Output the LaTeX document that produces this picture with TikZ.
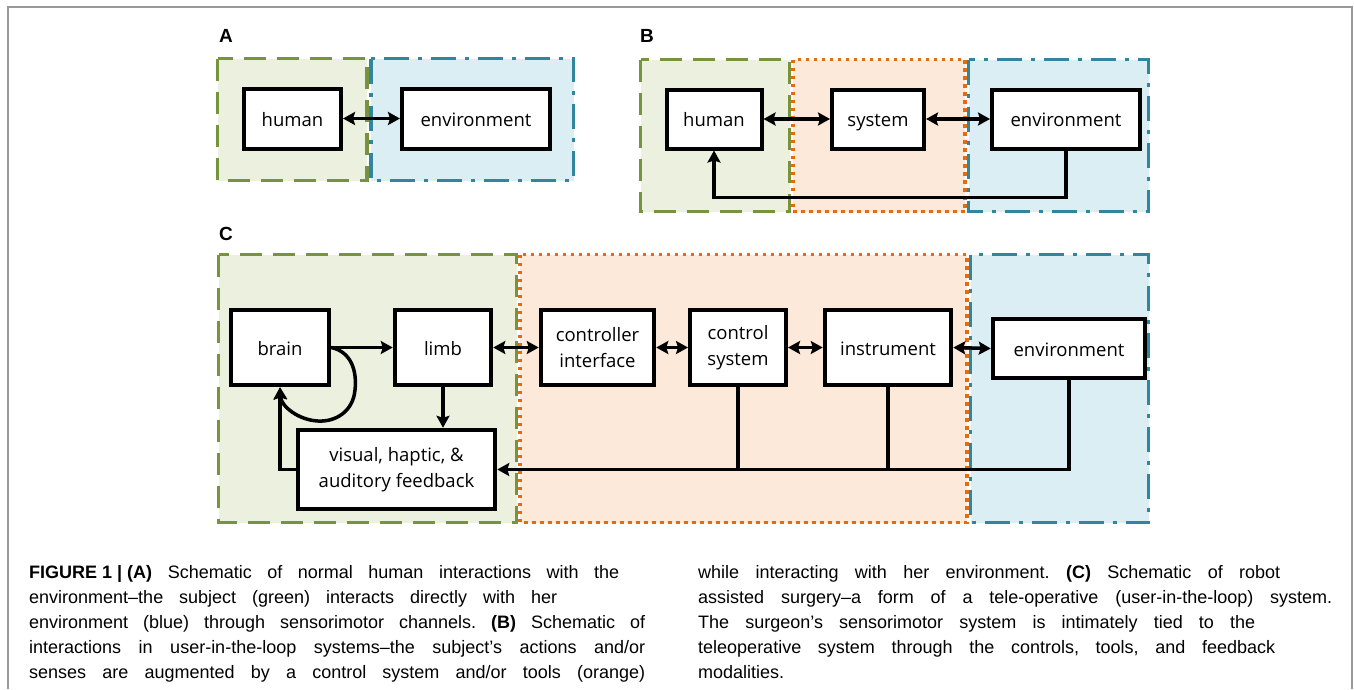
\documentclass[tikz,border=0pt]{standalone}
\usepackage{fontspec}
\setmainfont{Open Sans}
\newfontfamily\capfont{Liberation Sans}
\usetikzlibrary{arrows.meta}

% 区域配色
\definecolor{grnfill}{HTML}{EBF1DE}
\definecolor{grnline}{HTML}{77933C}
\definecolor{orgfill}{HTML}{FDE9D9}
\definecolor{orgline}{HTML}{E46C0A}
\definecolor{blufill}{HTML}{DAEEF3}
\definecolor{bluline}{HTML}{31859C}

% 图注一行：名称, x, 基线 y, 宽度, 文字
\newcommand{\capln}[5]{\node[capt, anchor=base west] (#1) at (#2,#3) {\makebox[#4pt][s]{#5}};}

\begin{document}
\begin{tikzpicture}[x=1pt, y=-1pt,
    blk/.style={draw, line width=4pt, fill=white, inner sep=0pt, align=center,
      font=\fontsize{18.5}{26}\selectfont},
    one/.style={text height=15pt, text depth=0pt},
    grnreg/.style={fill=grnfill, draw=grnline, line width=3.5pt, dash pattern=on 22pt off 11pt},
    orgreg/.style={fill=orgfill, draw=orgline, line width=3.5pt, dash pattern=on 3.5pt off 4.5pt},
    blureg/.style={fill=blufill, draw=bluline, line width=3.5pt, dash pattern=on 25pt off 9pt on 4pt off 9pt},
    lnk/.style={line width=3.5pt},
    arr/.style={lnk, -{Stealth[length=12pt, width=13pt, inset=2pt]}},
    darr/.style={lnk, {Stealth[length=12pt, width=13pt, inset=2pt]}-{Stealth[length=12pt, width=13pt, inset=2pt]}},
    panel/.style={font=\capfont\bfseries\fontsize{19}{22}\selectfont, inner sep=0pt, anchor=base west},
    capt/.style={font=\capfont\fontsize{18}{25}\selectfont\frenchspacing, inner sep=0pt}]
    \useasboundingbox (0,0) rectangle (1354,689);
    % 外框
    \draw[line width=2pt, gray!80] (8,689) -- (8,7) -- (1352,7) -- (1352,689);

    % ---- A ----
    \node[panel] (labA) at (219,42) {A};
    \draw[grnreg] (217.5,58.5) rectangle (367,180.5);
    \draw[blureg] (371,58.5) rectangle (573.5,180.5);
    \node[blk, one, minimum width=97pt, minimum height=60pt] (hA) at (292.5,118.5) {human};
    \node[blk, one, minimum width=148pt, minimum height=60pt] (eA) at (476,118.5) {environment};
    \draw[darr] (hA) -- (eA);

    % ---- B ----
    \node[panel] (labB) at (640,42) {B};
    \draw[grnreg] (640.5,59.5) rectangle (789.5,211.5);
    \draw[orgreg] (793,59.5) rectangle (965,211.5);
    \draw[blureg] (968.5,59.5) rectangle (1148.5,211.5);
    \node[blk, one, minimum width=95pt, minimum height=59pt] (hB) at (714,119) {human};
    \node[blk, one, minimum width=92pt, minimum height=59pt] (sB) at (878,119) {system};
    \node[blk, one, minimum width=148pt, minimum height=59pt] (eB) at (1066,119) {environment};
    \draw[darr] (hB) -- (sB);
    \draw[darr] (sB) -- (eB);
    \draw[arr] (eB.south) -- ++(0,47) -| (hB.south);

    % ---- C ----
    \node[panel] (labC) at (219,240) {C};
    \draw[grnreg] (218.5,254.5) rectangle (516.5,522.5);
    \draw[orgreg] (520,254.5) rectangle (967,522.5);
    \draw[blureg] (970.5,254.5) rectangle (1148.5,522.5);
    \node[blk, one, minimum width=98.5pt, minimum height=75.5pt] (brain) at (280,347.5) {brain};
    \node[blk, one, minimum width=96.5pt, minimum height=75.5pt] (limb) at (443,347.5) {limb};
    \node[blk, minimum width=113.5pt, minimum height=75.5pt] (ctrl) at (597.5,347.5) {controller\\interface};
    \node[blk, minimum width=96pt, minimum height=75.5pt] (csys) at (738,347.5) {control\\system};
    \node[blk, one, minimum width=126.5pt, minimum height=75.5pt] (instr) at (888,347.5) {instrument};
    \node[blk, one, minimum width=152.5pt, minimum height=59.5pt] (envC) at (1069,348.5) {environment};
    \node[blk, minimum width=197.5pt, minimum height=79.5pt] (fb) at (396.5,469.5) {visual, haptic, \&\\auditory feedback};

    \draw[arr] (brain.east) -- (limb.west);
    % 自反馈回路
    \draw[arr] (brain.east) .. controls (352,352) and (357,372) .. (355,390)
      .. controls (353,412) and (335,422) .. (318,421)
      .. controls (298,420) and (281,406) .. (brain.south);
    \draw[arr] (limb.south) -- (limb.south |- fb.north);
    \draw[arr] (fb.west) -| (brain.south);
    \draw[darr] (limb.east) -- (ctrl.west);
    \draw[darr] (ctrl.east) -- (csys.west);
    \draw[darr] (csys.east) -- (instr.west);
    \draw[darr] (instr.east) -- (envC.west);
    % 感知反馈总线
    \draw[arr] (envC.south) |- (fb.east);
    \draw[lnk] (csys.south) -- (csys.south |- fb.east);
    \draw[lnk] (instr.south) -- (instr.south |- fb.east);

    % ---- 图注 ----
    \capln{cl1}{29}{578}{590}{\mbox{\textbf{FIGURE 1 | (A)}} Schematic of normal human interactions with the}
    \capln{cl2}{29}{603}{528}{environment–the subject (green) interacts directly with her}
    \capln{cl3}{29}{628}{616}{environment (blue) through sensorimotor channels. \textbf{(B)} Schematic of}
    \capln{cl4}{29}{653}{616}{interactions in user-in-the-loop systems–the subject’s actions and/or}
    \capln{cl5}{29}{678}{616}{senses are augmented by a control system and/or tools (orange)}
    \capln{cr1}{698}{578}{582}{while interacting with her environment. \textbf{(C)} Schematic of robot}
    \capln{cr2}{698}{603}{634}{assisted surgery–a form of a tele-operative (user-in-the-loop) system.}
    \capln{cr3}{698}{628}{557}{The surgeon’s sensorimotor system is intimately tied to the}
    \capln{cr4}{698}{653}{577}{teleoperative system through the controls, tools, and feedback}
    \node[capt, anchor=base west] (cr5) at (698,678) {modalities.};
\end{tikzpicture}
\end{document}
